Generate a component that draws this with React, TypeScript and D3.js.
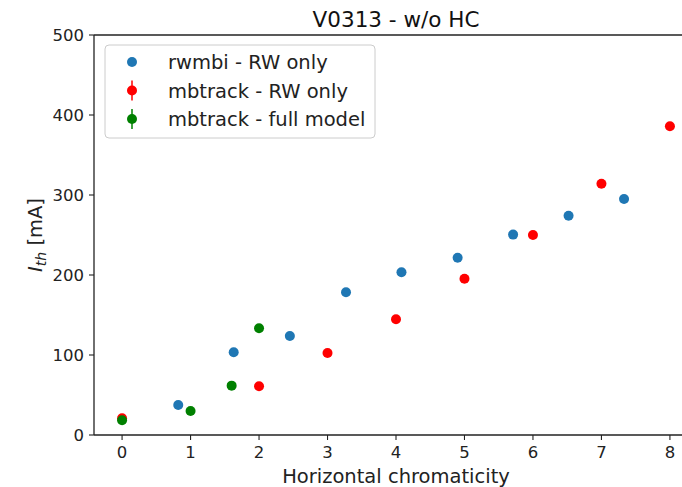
import React from "react";
import * as d3 from "d3";

const W = 682;
const H = 487;

const xTicks = [0, 1, 2, 3, 4, 5, 6, 7, 8];
const yTicks = [0, 100, 200, 300, 400, 500];

const rwmbiX = [0.82, 1.63, 2.45, 3.27, 4.08, 4.9, 5.71, 6.52, 7.33];
const rwmbiY = [37.5, 103.5, 123.7, 178.5, 203.5, 221.6, 250.5, 274, 295];

const mbRwX = [0, 2, 3, 4, 5, 6, 7, 8];
const mbRwY = [21, 61, 102.5, 144.6, 195.4, 250, 314, 386];

const mbFullX = [0, 1, 1.6, 2];
const mbFullY = [18.5, 30, 61.7, 133.5];

const title = "V0313 - w/o HC";
const xLabel = "Horizontal chromaticity";
const legendLabels = ["rwmbi - RW only", "mbtrack - RW only", "mbtrack - full model"];
const colors = ["#1f77b4", "#ff0000", "#008000"];

export default function App() {
  const margin = { left: 94, right: 698, top: 35, bottom: 435 };
  const x = d3.scaleLinear().domain([-0.41, 8.41]).range([margin.left, margin.right]);
  const y = d3.scaleLinear().domain([0, 500]).range([margin.bottom, margin.top]);
  const font = "DejaVu Sans, sans-serif";
  const axisColor = "#222";
  const r = 5;

  const blue = rwmbiX.map((v, i) => ({ x: v, y: rwmbiY[i] }));
  const red = mbRwX.map((v, i) => ({ x: v, y: mbRwY[i] }));
  const green = mbFullX.map((v, i) => ({ x: v, y: mbFullY[i] }));

  const legX = 105, legY = 45, legW = 270, legH = 93;
  const rowY = [62, 90.5, 119];

  return (
    <svg
      width={W}
      height={H}
      style={{ position: "absolute", left: 0, top: 0, background: "#fff" }}
      fontFamily={font}
    >
      <rect x={0} y={0} width={W} height={H} fill="#fff" />
      {blue.map((d, i) => (
        <circle key={"b" + i} cx={x(d.x)} cy={y(d.y)} r={r} fill={colors[0]} />
      ))}
      {red.map((d, i) => (
        <circle key={"r" + i} cx={x(d.x)} cy={y(d.y)} r={r} fill={colors[1]} />
      ))}
      {green.map((d, i) => (
        <circle key={"g" + i} cx={x(d.x)} cy={y(d.y)} r={r} fill={colors[2]} />
      ))}
      <line x1={margin.left} x2={margin.left} y1={margin.top} y2={margin.bottom} stroke={axisColor} strokeWidth={1.3} />
      <line x1={margin.left} x2={margin.right} y1={margin.bottom} y2={margin.bottom} stroke={axisColor} strokeWidth={1.3} />
      <line x1={margin.left} x2={margin.right} y1={margin.top} y2={margin.top} stroke={axisColor} strokeWidth={1.3} />
      <line x1={margin.right} x2={margin.right} y1={margin.top} y2={margin.bottom} stroke={axisColor} strokeWidth={1.3} />
      {xTicks.map((t) => (
        <g key={"xt" + t}>
          <line x1={x(t)} x2={x(t)} y1={margin.bottom} y2={margin.bottom + 5} stroke={axisColor} strokeWidth={1.1} />
          <text x={x(t)} y={margin.bottom + 23} textAnchor="middle" fontSize={16.5} fill="#222">
            {t}
          </text>
        </g>
      ))}
      {yTicks.map((t) => (
        <g key={"yt" + t}>
          <line x1={margin.left - 5} x2={margin.left} y1={y(t)} y2={y(t)} stroke={axisColor} strokeWidth={1.1} />
          <text x={margin.left - 10} y={y(t) + 6} textAnchor="end" fontSize={16.5} fill="#222">
            {t}
          </text>
        </g>
      ))}
      <text x={(margin.left + margin.right) / 2} y={27} textAnchor="middle" fontSize={21.5} fill="#111">
        {title}
      </text>
      <text x={(margin.left + margin.right) / 2} y={483} textAnchor="middle" fontSize={19.5} fill="#222">
        {xLabel}
      </text>
      <text transform={`translate(42,235) rotate(-90)`} textAnchor="middle" fontSize={19.5} fill="#222">
        <tspan fontStyle="italic">I</tspan>
        <tspan fontStyle="italic" fontSize={14} dy={4}>th</tspan>
        <tspan dy={-4}> [mA]</tspan>
      </text>
      <rect x={legX} y={legY} width={legW} height={legH} rx={4} fill="#fff" fillOpacity={0.8} stroke="#ccc" strokeWidth={1} />
      <circle cx={132} cy={rowY[0]} r={r} fill={colors[0]} />
      <line x1={132} x2={132} y1={rowY[1] - 10} y2={rowY[1] + 10} stroke={colors[1]} strokeWidth={1.5} />
      <circle cx={132} cy={rowY[1]} r={r} fill={colors[1]} />
      <line x1={132} x2={132} y1={rowY[2] - 10} y2={rowY[2] + 10} stroke={colors[2]} strokeWidth={1.5} />
      <circle cx={132} cy={rowY[2]} r={r} fill={colors[2]} />
      {legendLabels.map((l, i) => (
        <text key={l} x={168} y={rowY[i] + 7} fontSize={19.5} fill="#222">
          {l}
        </text>
      ))}
    </svg>
  );
}
